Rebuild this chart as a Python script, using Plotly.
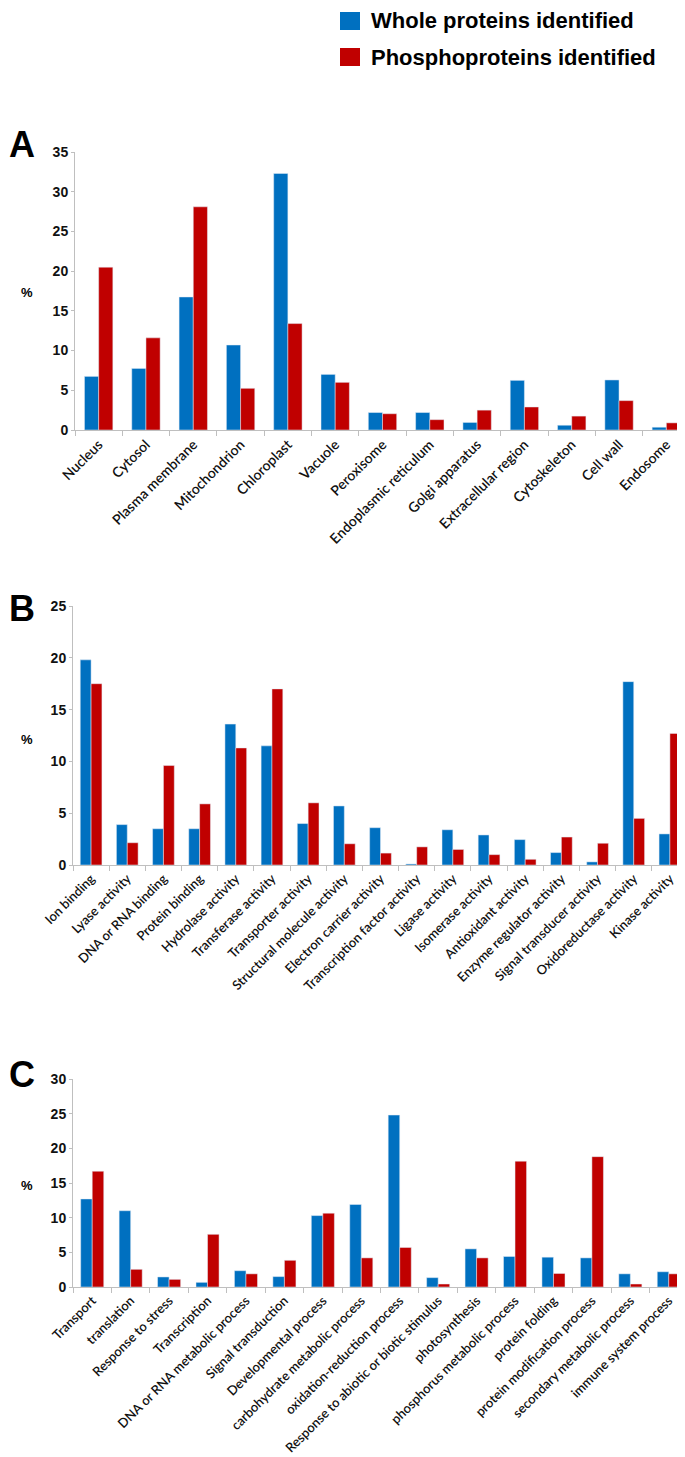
import plotly.graph_objects as go
from plotly.subplots import make_subplots

BLUE = "#0070C0"
RED = "#C00000"
W, H = 685, 1457

# A: subcellular localisation
loc_labels = ["Nucleus", "Cytosol", "Plasma membrane", "Mitochondrion", "Chloroplast",
              "Vacuole", "Peroxisome", "Endoplasmic reticulum", "Golgi apparatus",
              "Extracellular region", "Cytoskeleton", "Cell wall", "Endosome"]
loc_whole = [6.75, 7.75, 16.75, 10.7, 32.3, 7.0, 2.2, 2.2, 0.95, 6.25, 0.6, 6.3, 0.35]
loc_phospho = [20.5, 11.6, 28.1, 5.25, 13.4, 6.0, 2.05, 1.3, 2.5, 2.9, 1.75, 3.7, 0.9]

# B: molecular function
func_labels = ["Ion binding", "Lyase activity", "DNA or RNA binding", "Protein binding",
               "Hydrolase activity", "Transferase activity", "Transporter activity",
               "Structural molecule activity", "Electron carrier activity",
               "Transcription factor activity", "Ligase activity", "Isomerase activity",
               "Antioxidant activity", "Enzyme regulator activity",
               "Signal transducer activity", "Oxidoreductase activity", "Kinase activity"]
func_whole = [19.8, 3.9, 3.5, 3.5, 13.6, 11.5, 4.0, 5.7, 3.6, 0.1, 3.4, 2.9, 2.45,
              1.2, 0.3, 17.7, 3.0]
func_phospho = [17.5, 2.15, 9.6, 5.9, 11.3, 17.0, 6.0, 2.05, 1.15, 1.75, 1.5, 1.0, 0.55,
                2.7, 2.1, 4.5, 12.7]

# C: biological process
proc_labels = ["Transport", "translation", "Response to stress", "Transcription",
               "DNA or RNA metabolic process", "Signal transduction",
               "Developmental process", "carbohydrate metabolic process",
               "oxidation-reduction process", "Response to abiotic or biotic stimulus",
               "photosynthesis", "phosphorus metabolic process", "protein folding",
               "protein modification process", "secondary metabolic process",
               "immune system process"]
proc_whole = [12.7, 11.0, 1.45, 0.67, 2.35, 1.5, 10.3, 11.9, 24.8, 1.35, 5.5, 4.4, 4.3,
              4.2, 1.9, 2.2]
proc_phospho = [16.7, 2.55, 1.1, 7.6, 1.9, 3.85, 10.65, 4.2, 5.7, 0.43, 4.2, 18.15, 1.95,
                18.8, 0.43, 1.9]

panels = [
    (loc_labels, loc_whole, loc_phospho, 35, 14),
    (func_labels, func_whole, func_phospho, 25, 13),
    (proc_labels, proc_whole, proc_phospho, 30, 13),
]

fig = make_subplots(rows=3, cols=1)

for i, (labels, whole, phospho, ymax, fsize) in enumerate(panels, start=1):
    fig.add_trace(go.Bar(x=labels, y=whole, name="Whole proteins identified",
                         marker_color=BLUE, showlegend=False), row=i, col=1)
    fig.add_trace(go.Bar(x=labels, y=phospho, name="Phosphoproteins identified",
                         marker_color=RED, showlegend=False), row=i, col=1)
    fig.update_xaxes(row=i, col=1, tickangle=-45, showline=True, linecolor="#bfbfbf",
                     linewidth=1, ticks="outside", tickson="boundaries", ticklen=5,
                     tickcolor="#bfbfbf", automargin=False,
                     tickfont=dict(family="Lato", size=fsize, color="#111111", weight=600))
    fig.update_yaxes(row=i, col=1, range=[0, ymax], dtick=5, showgrid=False,
                     zeroline=False, showline=True, linecolor="#bfbfbf", linewidth=1,
                     ticks="outside", ticklen=3, tickcolor="#bfbfbf", automargin=False,
                     tickfont=dict(family="Liberation Sans", size=14, color="#111111",
                                   weight="bold"))

# pixel layout of each panel: (left, right, top, bottom)
boxes = [(67, 682, 144, 422), (65, 680, 598, 857), (65, 680, 1071, 1279)]
for i, (l, r, t, b) in enumerate(boxes, start=1):
    fig.update_xaxes(row=i, col=1, domain=[l / W, r / W])
    fig.update_yaxes(row=i, col=1, domain=[1 - b / H, 1 - t / H])

annotations = []
for letter, ly, py in [("A", 136, 285), ("B", 600, 731), ("C", 1066, 1177)]:
    annotations.append(dict(text=letter, x=14 / W, y=1 - ly / H, xref="paper", yref="paper",
                            showarrow=False, xanchor="center", yanchor="middle",
                            font=dict(family="Liberation Sans", size=36, color="black",
                                      weight="bold")))
    annotations.append(dict(text="%", x=19 / W, y=1 - py / H, xref="paper", yref="paper",
                            showarrow=False, xanchor="center", yanchor="middle",
                            font=dict(family="Liberation Sans", size=13, color="black",
                                      weight="bold")))

shapes = []
for name, color, cy in [("Whole proteins identified", BLUE, 13),
                        ("Phosphoproteins identified", RED, 49)]:
    shapes.append(dict(type="rect", xref="paper", yref="paper", x0=332 / W, x1=352 / W,
                       y0=1 - (cy + 9) / H, y1=1 - (cy - 9) / H, fillcolor=color,
                       line=dict(width=0)))
    annotations.append(dict(text=name, x=361 / W, y=1 - cy / H, xref="paper", yref="paper",
                            showarrow=False, xanchor="left", yanchor="middle",
                            font=dict(family="Liberation Sans", size=22, color="black",
                                      weight="bold")))

fig.update_layout(
    width=W, height=H,
    margin=dict(l=0, r=0, t=0, b=0),
    plot_bgcolor="white", paper_bgcolor="white",
    barmode="group", bargap=0.4, bargroupgap=0,
    annotations=annotations, shapes=shapes,
)

fig.write_html("out.html")
